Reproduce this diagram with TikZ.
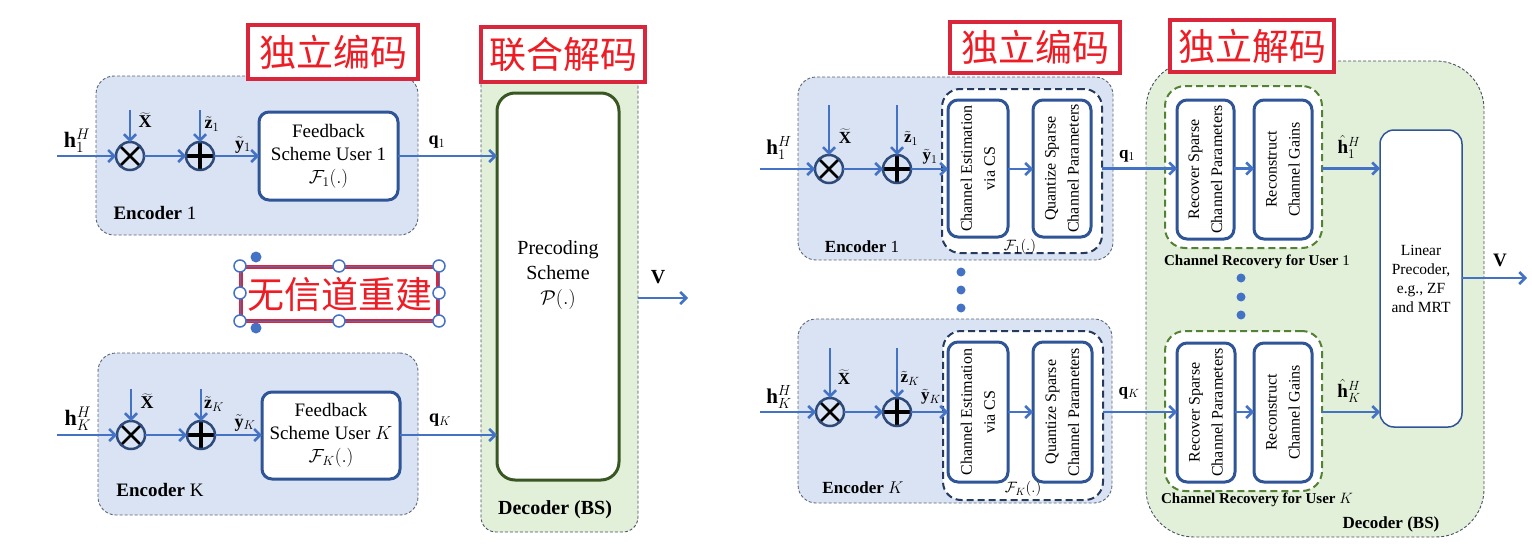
\RequirePackage{fix-cm}
\documentclass[tikz,border=0pt]{standalone}
\usepackage{fontspec}
\setmainfont{Liberation Serif}
\newfontfamily\cjk{Noto Sans CJK SC}
\usetikzlibrary{arrows.meta}
\definecolor{encfill}{HTML}{DAE3F3}
\definecolor{decfill}{HTML}{E2F0D9}
\definecolor{boxblue}{HTML}{2F5597}
\definecolor{arrblue}{HTML}{4472C4}
\definecolor{circblue}{HTML}{2E4A78}
\definecolor{dkgreen}{HTML}{385723}
\definecolor{midgreen}{HTML}{548235}
\definecolor{redbox}{HTML}{D9263B}
\definecolor{redtxt}{HTML}{EE1C25}
\definecolor{dashgray}{HTML}{5A6478}
\definecolor{fnavy}{HTML}{263A5E}
\newcommand\Lf{\fontsize{19}{24}\selectfont}
\newcommand\Rf{\fontsize{16}{23}\selectfont}
\newcommand\Rl{\fontsize{15}{19}\selectfont}
\begin{document}
\begin{tikzpicture}[x=1pt,y=-1pt,
  every node/.style={inner sep=0pt,outer sep=0pt},
  enc/.style={draw=dashgray,fill=encfill,line width=0.9pt,dash pattern=on 3pt off 2pt,rounded corners=18pt,anchor=north west},
  dec/.style={draw=dashgray!80!black,fill=decfill,line width=0.9pt,dash pattern=on 3pt off 2pt,anchor=north west},
  blk/.style={draw=boxblue,fill=white,line width=3pt,rounded corners=10pt,anchor=north west},
  fbox/.style={draw=fnavy,fill=white,line width=2pt,dash pattern=on 7pt off 4pt,rounded corners=18pt,anchor=north west},
  crbox/.style={draw=midgreen,fill=white,line width=2pt,dash pattern=on 7pt off 4pt,rounded corners=20pt,anchor=north west},
  redb/.style={draw=redbox,fill=white,line width=4pt,anchor=north west,text=redtxt,font=\cjk\fontsize{37}{40}\selectfont},
  arr/.style={draw=arrblue,line width=2.5pt,-{Straight Barb[length=6pt,width=12pt,line width=2.5pt]}},
  mul/.style={circle,draw=circblue,line width=2.5pt,minimum size=28pt,fill=none,
    path picture={\draw[black,line width=2.5pt] (path picture bounding box.north west)--(path picture bounding box.south east)
      (path picture bounding box.north east)--(path picture bounding box.south west);}},
  add/.style={circle,draw=circblue,line width=2.5pt,minimum size=28pt,fill=none,
    path picture={\draw[black,line width=3.5pt] (path picture bounding box.north)--(path picture bounding box.south)
      (path picture bounding box.east)--(path picture bounding box.west);}},
  dot/.style={circle,fill=arrblue,minimum size=9pt},
  hnd/.style={circle,draw=arrblue,fill=white,line width=1.5pt,minimum size=12pt},
  hndf/.style={circle,fill=arrblue,minimum size=11pt},
  hlab/.style={font=\fontsize{22}{24}\selectfont},
  slab/.style={font=\fontsize{18}{20}\selectfont},
  rslab/.style={font=\fontsize{17}{20}\selectfont}
]
\useasboundingbox (0,0) rectangle (1532,546);

%================ LEFT DIAGRAM ================
% decoder (BS)
\node[dec,rounded corners=15pt,minimum width=157,minimum height=462] (DL) at (481,70) {};
\node[draw=dkgreen,fill=white,line width=3pt,rounded corners=18pt,anchor=north west,minimum width=122,minimum height=387] (PL) at (497,93) {};
\node[font=\fontsize{20}{25}\selectfont,align=center] (PLt) at (558,275) {Precoding\\Scheme\\$\mathcal{P}(.)$};
\node[font=\fontsize{20}{24}\selectfont\bfseries] (DLt) at (555,510) {Decoder (BS)};
\node[redb,minimum width=164,minimum height=55] (T2L) at (481,27) {联合解码};

% encoder 1
\node[enc,minimum width=322,minimum height=159] (E1L) at (96,76) {};
\node[redb,minimum width=170,minimum height=54] (T1L) at (248,25) {独立编码};
\node[mul] (M1L) at (130,156) {};
\node[add] (A1L) at (200,156) {};
\node[blk,minimum width=139,minimum height=88,align=center,font=\Lf] (F1L) at (259,112) {Feedback\\[-1pt]Scheme User 1\\[-1pt]$\mathcal{F}_1(.)$};
\coordinate (in1L) at (57,156);
\coordinate (xt1L) at (130,110);
\coordinate (zt1L) at (200,110);
\draw[arr] (in1L) -- (M1L);
\draw[arr] (xt1L) -- (M1L);
\draw[arr] (M1L) -- (A1L);
\draw[arr] (zt1L) -- (A1L);
\draw[arr] (A1L) -- (F1L);
\draw[arr] (F1L.east) -- (PL.west |- F1L.east);
\node[hlab] (h1L) at (77,141) {$\mathbf{h}_1^H$};
\node[slab] (x1L) at (145,120) {$\widetilde{\mathbf{X}}$};
\node[slab] (z1L) at (212,124) {$\tilde{\mathbf{z}}_1$};
\node[slab] (y1L) at (243,145) {$\tilde{\mathbf{y}}_1$};
\node[slab] (q1L) at (437,142) {$\mathbf{q}_1$};
\node[font=\Lf] (e1L) at (155,213) {\textbf{Encoder} 1};

% no channel reconstruction tag with selection handles
\node[redb,minimum width=197,minimum height=54] (T3L) at (241,267) {无信道重建};
\draw[arrblue,line width=1pt] (240,266) rectangle (439,321);
\foreach \p in {(240,266),(339,266),(439,266),(240,293),(439,293),(240,321),(339,321),(439,321)}
  \node[hnd] at \p {};
\node[hndf] (hf1) at (256,257) {};
\node[hndf] (hf2) at (256,328) {};

% encoder K
\node[enc,minimum width=320,minimum height=162] (EKL) at (98,353) {};
\node[mul] (MKL) at (131,435) {};
\node[add] (AKL) at (201,435) {};
\node[blk,minimum width=138,minimum height=87,align=center,font=\Lf] (FKL) at (262,392) {Feedback\\[-1pt]Scheme User $K$\\[-1pt]$\mathcal{F}_K(.)$};
\coordinate (inKL) at (57,435);
\coordinate (xtKL) at (131,389);
\coordinate (ztKL) at (201,389);
\draw[arr] (inKL) -- (MKL);
\draw[arr] (xtKL) -- (MKL);
\draw[arr] (MKL) -- (AKL);
\draw[arr] (ztKL) -- (AKL);
\draw[arr] (AKL) -- (FKL.west |- AKL);
\draw[arr] (FKL.east |- AKL) -- (PL.west |- AKL);
\node[hlab] (hKL) at (78,419) {$\mathbf{h}_K^H$};
\node[slab] (xKL) at (147,401) {$\widetilde{\mathbf{X}}$};
\node[slab] (zKL) at (214,404) {$\tilde{\mathbf{z}}_K$};
\node[slab] (yKL) at (245,423) {$\tilde{\mathbf{y}}_K$};
\node[slab] (qKL) at (440,420) {$\mathbf{q}_K$};
\node[font=\Lf] (eKL) at (160,490) {\textbf{Encoder} K};

\coordinate (vL) at (688,298);
\draw[arr] (DL.east |- vL) -- (vL);
\node[font=\fontsize{20}{22}\selectfont] (VL) at (658,277) {$\mathbf{V}$};

%================ RIGHT DIAGRAM ================
% decoder
\node[dec,rounded corners=48pt,minimum width=338,minimum height=476] (DR) at (1146,61) {};
\node[redb,minimum width=164,minimum height=52] (T2R) at (1170,20) {独立解码};
\node[font=\fontsize{17}{20}\selectfont\bfseries] (DRt) at (1391,524) {Decoder (BS)};

% encoder 1
\node[enc,minimum width=315,minimum height=183] (E1R) at (798,77) {};
\node[redb,minimum width=170,minimum height=51] (T1R) at (950,22) {独立编码};
\node[fbox,minimum width=160,minimum height=164] (F1R) at (942,89) {};
\node[blk,minimum width=60,minimum height=137] (C1R) at (948,100) {};
\node[blk,minimum width=58,minimum height=137] (Q1R) at (1033,100) {};
\node[rotate=90,align=center,font=\Rf] (C1Rt) at (C1R.center) {Channel Estimation\\via CS};
\node[rotate=90,align=center,font=\Rf] (Q1Rt) at (Q1R.center) {Quantize Sparse\\Channel Parameters};
\node[mul] (M1R) at (829,169) {};
\node[add] (A1R) at (897,169) {};
\coordinate (in1R) at (760,169);
\coordinate (xt1R) at (829,105);
\coordinate (zt1R) at (897,105);
\draw[arr] (in1R) -- (M1R);
\draw[arr] (xt1R) -- (M1R);
\draw[arr] (M1R) -- (A1R);
\draw[arr] (zt1R) -- (A1R);
\draw[arr] (A1R) -- (C1R.west |- A1R);
\draw[arr] (C1R.east |- A1R) -- (Q1R.west |- A1R);
\node[font=\fontsize{21}{24}\selectfont] (h1R) at (779,148) {$\mathbf{h}_1^H$};
\node[rslab] (x1R) at (845,136) {$\widetilde{\mathbf{X}}$};
\node[rslab] (z1R) at (911,138) {$\tilde{\mathbf{z}}_1$};
\node[rslab] (y1R) at (930,157) {$\tilde{\mathbf{y}}_1$};
\node[font=\fontsize{17}{20}\selectfont] (e1R) at (862,247) {\textbf{Encoder} 1};
\node[font=\Rl] (f1R) at (1020,247) {$\mathcal{F}_1(.)$};
\node[rslab] (q1R) at (1127,156) {$\mathbf{q}_1$};

% dots between encoders
\node[dot] (d1) at (961,272) {};
\node[dot] (d2) at (961,290) {};
\node[dot] (d3) at (961,308) {};

% encoder K
\node[enc,minimum width=314,minimum height=184] (EKR) at (798,319) {};
\node[fbox,minimum width=160,minimum height=169] (FKR) at (943,331) {};
\node[blk,minimum width=60,minimum height=140] (CKR) at (948,342) {};
\node[blk,minimum width=59,minimum height=140] (QKR) at (1033,342) {};
\node[rotate=90,align=center,font=\Rf] (CKRt) at (CKR.center) {Channel Estimation\\via CS};
\node[rotate=90,align=center,font=\Rf] (QKRt) at (QKR.center) {Quantize Sparse\\Channel Parameters};
\node[mul] (MKR) at (830,412) {};
\node[add] (AKR) at (897,412) {};
\coordinate (inKR) at (760,412);
\coordinate (xtKR) at (830,348);
\coordinate (ztKR) at (897,348);
\draw[arr] (inKR) -- (MKR);
\draw[arr] (xtKR) -- (MKR);
\draw[arr] (MKR) -- (AKR);
\draw[arr] (ztKR) -- (AKR);
\draw[arr] (AKR) -- (CKR.west |- AKR);
\draw[arr] (CKR.east |- AKR) -- (QKR.west |- AKR);
\node[font=\fontsize{21}{24}\selectfont] (hKR) at (779,397) {$\mathbf{h}_K^H$};
\node[rslab] (xKR) at (844,377) {$\widetilde{\mathbf{X}}$};
\node[rslab] (zKR) at (910,378) {$\tilde{\mathbf{z}}_K$};
\node[rslab] (yKR) at (931,397) {$\tilde{\mathbf{y}}_K$};
\node[font=\fontsize{17}{20}\selectfont] (eKR) at (863,488) {\textbf{Encoder} $K$};
\node[font=\Rl] (fKR) at (1023,489) {$\mathcal{F}_K(.)$};
\node[rslab] (qKR) at (1129,393) {$\mathbf{q}_K$};

% channel recovery 1
\node[crbox,minimum width=157,minimum height=162] (CR1) at (1165,86) {};
\node[blk,minimum width=57,minimum height=139] (Rc1) at (1177,100) {};
\node[blk,minimum width=58,minimum height=139] (Rn1) at (1254,100) {};
\node[rotate=90,align=center,font=\Rf] (Rc1t) at (Rc1.center) {Recover Sparse\\Channel Parameters};
\node[rotate=90,align=center,font=\Rf] (Rn1t) at (Rn1.center) {Reconstruct\\Channel Gains};
\node[font=\Rl\bfseries] (CR1t) at (1257,262) {Channel Recovery for User \mdseries 1};

% channel recovery K
\node[crbox,minimum width=157,minimum height=160] (CRK) at (1165,331) {};
\node[blk,minimum width=58,minimum height=139] (RcK) at (1177,343) {};
\node[blk,minimum width=58,minimum height=139] (RnK) at (1254,343) {};
\node[rotate=90,align=center,font=\Rf] (RcKt) at (RcK.center) {Recover Sparse\\Channel Parameters};
\node[rotate=90,align=center,font=\Rf] (RnKt) at (RnK.center) {Reconstruct\\Channel Gains};
\node[font=\Rl\bfseries] (CRKt) at (1257,500) {Channel Recovery for User \mdseries$K$};

% dots in decoder
\node[dot] (e1) at (1241,278) {};
\node[dot] (e2) at (1241,297) {};
\node[dot] (e3) at (1241,315) {};

% linear precoder
\node[draw=boxblue,fill=white,line width=1.5pt,rounded corners=14pt,anchor=north west,minimum width=82,minimum height=297] (Lin) at (1380,130) {};
\node[align=center,font=\fontsize{15.5}{19}\selectfont] (Lint) at (1421,279) {Linear\\Precoder,\\e.g., ZF\\and MRT};

% connections encoder -> decoder
\draw[arr] (F1R.east |- Q1R.east) -- (Rc1.west |- Q1R.east);
\draw[arr] (FKR.east |- AKR) -- (RcK.west |- AKR);
\draw[arr] (Rc1.east |- Q1R.east) -- (Rn1.west |- Q1R.east);
\draw[arr] (RcK.east |- AKR) -- (RnK.west |- AKR);
\draw[arr] (CR1.east |- Q1R.east) -- (Lin.west |- Q1R.east);
\draw[arr] (CRK.east |- AKR) -- (Lin.west |- AKR);
\node[font=\fontsize{19}{22}\selectfont] (hh1) at (1349,147) {$\hat{\mathbf{h}}_1^H$};
\node[font=\fontsize{19}{22}\selectfont] (hhK) at (1349,391) {$\hat{\mathbf{h}}_K^H$};

\coordinate (vR) at (1527,278);
\draw[arr] (Lin.east |- vR) -- (vR);
\node[font=\fontsize{19}{22}\selectfont] (VR) at (1500,260) {$\mathbf{V}$};
\end{tikzpicture}
\end{document}
